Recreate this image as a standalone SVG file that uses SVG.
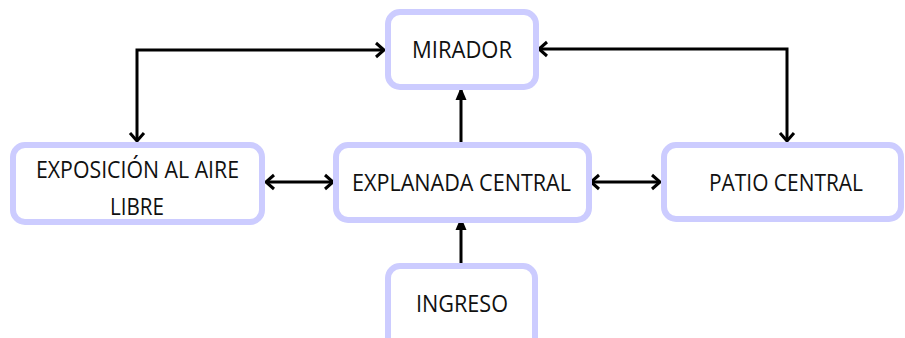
<svg xmlns="http://www.w3.org/2000/svg" width="905" height="338" viewBox="0 0 905 338">
<style>
.box{fill:#ffffff;stroke:#ccccff;stroke-width:6}
.lbl{font-family:"Open Sans","Liberation Sans",sans-serif;font-size:24px;fill:#111111}
.con{fill:none;stroke:#000000;stroke-width:3}
</style>
<defs>
<marker id="chev" markerUnits="userSpaceOnUse" markerWidth="20" markerHeight="20" viewBox="-10 -10 20 20" refX="0" refY="0" orient="auto-start-reverse">
<path d="M-8,-7 L0,0 L-8,7" fill="none" stroke="#000" stroke-width="3"/>
</marker>
<marker id="tri" markerUnits="userSpaceOnUse" markerWidth="20" markerHeight="20" viewBox="-14 -10 20 20" refX="0" refY="0" orient="auto">
<path d="M0,0 L-13,-5.5 L-13,5.5 Z" fill="#000"/>
</marker>
</defs>
<rect width="905" height="338" fill="#ffffff"/>
<g id="connectors">
<path class="con" d="M384,50 L137,50 L137,141" marker-start="url(#chev)" marker-end="url(#chev)"/>
<path class="con" d="M539,49 L787,49 L787,141" marker-start="url(#chev)" marker-end="url(#chev)"/>
<path class="con" d="M266,182 L333,182" marker-start="url(#chev)" marker-end="url(#chev)"/>
<path class="con" d="M591,182 L660,182" marker-start="url(#chev)" marker-end="url(#chev)"/>
<path class="con" d="M461,148 L461,87" marker-end="url(#tri)"/>
<path class="con" d="M461,266 L461,217" marker-end="url(#tri)"/>
</g>
<g id="mirador">
<rect class="box" x="388" y="12" width="148" height="75" rx="12"/>
<text class="lbl" x="412" y="58" textLength="100" lengthAdjust="spacingAndGlyphs">MIRADOR</text>
</g>
<g id="exposicion">
<rect class="box" x="13" y="145" width="249" height="77" rx="12"/>
<text class="lbl" x="36" y="178" textLength="203" lengthAdjust="spacingAndGlyphs">EXPOSICIÓN AL AIRE</text>
<text class="lbl" x="110" y="215" textLength="54" lengthAdjust="spacingAndGlyphs">LIBRE</text>
</g>
<g id="explanada">
<rect class="box" x="336" y="145" width="253" height="75" rx="12"/>
<text class="lbl" x="352" y="191" textLength="219" lengthAdjust="spacingAndGlyphs">EXPLANADA CENTRAL</text>
</g>
<g id="patio">
<rect class="box" x="664" y="145" width="237" height="74" rx="12"/>
<text class="lbl" x="709" y="191" textLength="154" lengthAdjust="spacingAndGlyphs">PATIO CENTRAL</text>
</g>
<g id="ingreso">
<rect class="box" x="388" y="266" width="147" height="90" rx="12"/>
<text class="lbl" x="416" y="312" textLength="92" lengthAdjust="spacingAndGlyphs">INGRESO</text>
</g>
</svg>
